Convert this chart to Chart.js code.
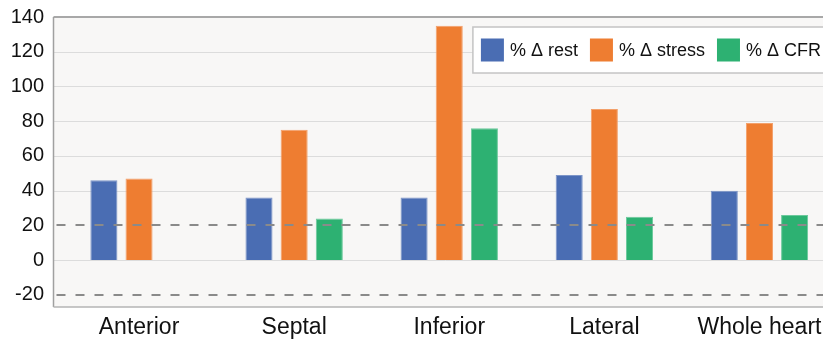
<!DOCTYPE html>
<html>
<head>
<meta charset="utf-8">
<script src="https://cdn.jsdelivr.net/npm/chart.js@4"></script>
<style>
html,body{margin:0;padding:0;background:#fff;overflow:hidden}
#wrap{width:850px;height:339px;position:relative}
</style>
</head>
<body>
<div id="wrap"><canvas id="barChart"></canvas></div>
<script>
const regions=['Anterior','Septal','Inferior','Lateral','Whole heart'];
const rest=[46,36,36,49,40];
const stress=[47,75,135,87,79];
const cfr=[null,24,76,25,26];
const yTicks=[-20,0,20,40,60,80,100,120,140];
const refLines=[20,-20];

const FONT='"Liberation Sans", Arial, Helvetica, sans-serif';
const leftExtra=8;

// plot background, grid lines and frame (frame starts a bit left of the first category)
const plotFrame={
  id:'plotFrame',
  beforeDraw(chart){
    const {ctx,chartArea:a}=chart;
    ctx.save();
    ctx.fillStyle='#ffffff';
    ctx.fillRect(0,0,chart.width,chart.height);
    ctx.fillStyle='#f8f7f6';
    ctx.fillRect(a.left-leftExtra,a.top,a.right-a.left+leftExtra,a.bottom-a.top);
    ctx.restore();
  },
  beforeDatasetsDraw(chart){
    const {ctx,chartArea:a,scales}=chart;
    const y=scales.y;
    ctx.save();
    ctx.lineWidth=1;
    ctx.strokeStyle='#dcdcdc';
    yTicks.forEach(v=>{
      if(refLines.includes(v))return;
      const py=Math.round(y.getPixelForValue(v))+0.5;
      ctx.beginPath();ctx.moveTo(a.left-leftExtra,py);ctx.lineTo(a.right,py);ctx.stroke();
    });
    // frame
    ctx.strokeStyle='#a8a8a8';
    ctx.lineWidth=2;
    ctx.beginPath();ctx.moveTo(a.left-leftExtra,a.top);ctx.lineTo(a.right,a.top);ctx.stroke();
    ctx.strokeStyle='#a0a0a0';
    ctx.lineWidth=1.5;
    ctx.beginPath();ctx.moveTo(a.left-leftExtra,a.top);ctx.lineTo(a.left-leftExtra,a.bottom);ctx.stroke();
    ctx.strokeStyle='#b4b4b4';
    ctx.beginPath();ctx.moveTo(a.left-leftExtra,a.bottom);ctx.lineTo(a.right,a.bottom);ctx.stroke();
    ctx.restore();
  },
  afterDatasetsDraw(chart){
    const {ctx,chartArea:a,scales}=chart;
    ctx.save();
    ctx.strokeStyle='#8a8a8a';
    ctx.lineWidth=2;
    ctx.setLineDash([9,10]);
    refLines.forEach(v=>{
      const py=Math.round(scales.y.getPixelForValue(v));
      ctx.beginPath();ctx.moveTo(a.left-leftExtra+3,py);ctx.lineTo(a.right,py);ctx.stroke();
    });
    ctx.restore();
  }
};

// boxed legend inside the plot, top right
const boxLegend={
  id:'boxLegend',
  afterDraw(chart){
    const {ctx,chartArea:a}=chart;
    ctx.save();
    ctx.font='18px '+FONT;
    const sq=23,gap=6,space=12,padX=8,h=46;
    const items=chart.data.datasets.map(d=>({text:d.label,color:d.backgroundColor,w:ctx.measureText(d.label).width}));
    const total=padX*2+items.reduce((s,it)=>s+sq+gap+it.w,0)+space*(items.length-1);
    const right=a.right-8, top=a.top+10;
    const left=right-total;
    ctx.fillStyle='#ffffff';
    ctx.fillRect(left,top,total,h);
    ctx.strokeStyle='#c4c4c4';
    ctx.lineWidth=1.5;
    ctx.strokeRect(left,top,total,h);
    let x=left+padX;
    const cy=top+h/2;
    ctx.textBaseline='middle';
    items.forEach(it=>{
      ctx.fillStyle=it.color;
      ctx.fillRect(x,cy-sq/2,sq,sq);
      x+=sq+gap;
      ctx.fillStyle='#111111';
      ctx.fillText(it.text,x,cy+1);
      x+=it.w+space;
    });
    ctx.restore();
  }
};

new Chart(document.getElementById('barChart'),{
  type:'bar',
  data:{
    labels:regions,
    datasets:[
      {label:'% Δ rest',data:rest,backgroundColor:'#4a6db3',borderColor:'#7d95c8',borderWidth:1},
      {label:'% Δ stress',data:stress,backgroundColor:'#ee7d31',borderColor:'#f3a06a',borderWidth:1},
      {label:'% Δ CFR',data:cfr,backgroundColor:'#2db172',borderColor:'#6cc99c',borderWidth:1}
    ]
  },
  options:{
    responsive:true,
    maintainAspectRatio:false,
    animation:false,
    categoryPercentage:0.68,
    barPercentage:0.77,
    layout:{padding:{left:11,right:13,top:17,bottom:0}},
    plugins:{
      legend:{display:false},
      tooltip:{enabled:false},
      title:{display:false}
    },
    scales:{
      x:{
        grid:{display:false,drawTicks:false},
        border:{display:false},
        ticks:{color:'#111111',padding:9,font:{family:FONT,size:23,lineHeight:1}},
        afterFit(s){s.height=32;}
      },
      y:{
        min:-27,
        max:140,
        afterBuildTicks(scale){scale.ticks=yTicks.map(v=>({value:v}));},
        grid:{display:false,drawTicks:false},
        border:{display:false},
        ticks:{color:'#111111',padding:17.5,font:{family:FONT,size:20}},
        afterFit(s){s.width=50.5;s.paddingTop=12;s.paddingBottom=12;}
      }
    }
  },
  plugins:[plotFrame,boxLegend]
});
</script>
</body>
</html>
